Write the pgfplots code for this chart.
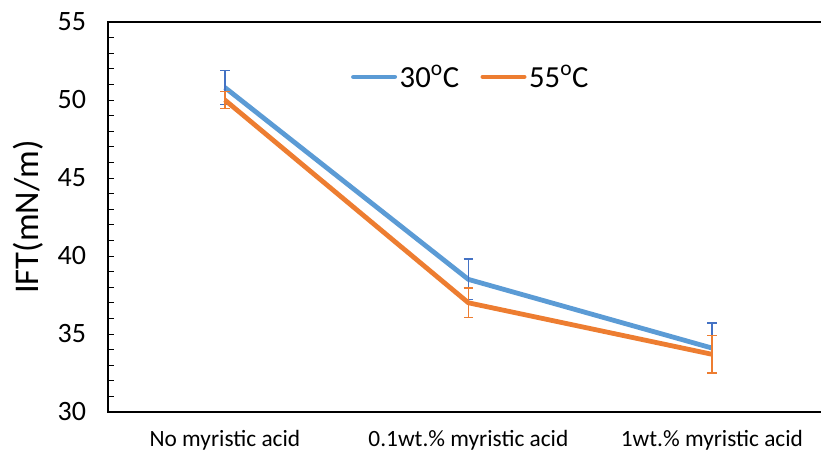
\documentclass[border=0pt]{standalone}
\usepackage{pgfplots}
\pgfplotsset{compat=1.18}
\usepackage{fontspec}
\setmainfont{Carlito}
\definecolor{cblue}{HTML}{5B9BD5}
\definecolor{corange}{HTML}{ED7D31}
\definecolor{eblue}{HTML}{4472C4}
\begin{document}
\begin{tikzpicture}
\useasboundingbox (0pt,0pt) rectangle (615.75pt,345pt);
\begin{axis}[
  at={(81pt,36pt)}, anchor=south west,
  scale only axis, width=541.5pt, height=292.5pt,
  xmin=-0.48, xmax=2.485, ymin=30, ymax=55,
  xtick={0,1,2},
  xticklabels={No myristic acid,0.1wt.\% myristic acid,1wt.\% myristic acid},
  ytick={30,35,...,55},
  minor y tick num=4,
  tick align=inside,
  major tick length=4.5pt, minor tick length=4.5pt,
  x tick style={draw=none},
  y tick style={black, line width=0.6pt},
  axis line style={line width=0.8pt},
  /pgf/number format/assume math mode=true,
  yticklabel style={font=\fontsize{21}{21}\selectfont, xshift=-13pt},
  xticklabel style={font=\fontsize{17.5}{18}\selectfont, yshift=-10.5pt},
  ylabel={IFT(mN/m)},
  ylabel style={font=\fontsize{26}{26}\selectfont, yshift=4pt},
  legend style={at={(0.503,0.905)}, anchor=north, draw=none, fill=none,
    legend columns=2, font=\fontsize{23}{23}\selectfont,
    inner xsep=0pt,
    /tikz/every even column/.append style={column sep=14pt},
    nodes={inner xsep=2pt}},
  legend image code/.code={\draw[#1, line width=3.5pt, line cap=round] (0pt,0pt) -- (31pt,0pt);},
]
\addplot[cblue, line width=3.6pt, line join=round,
  error bars/.cd, y dir=both, y explicit,
  error bar style={eblue, line width=1.1pt},
  error mark options={eblue, line width=1.1pt, mark size=3.6pt, rotate=90}]
  coordinates {(0,50.8) +- (0,1.1) (1,38.5) +- (0,1.3) (2,34.1) +- (0,1.6)};
\addlegendentry{30\textsuperscript{o}C}
\addplot[corange, line width=3.6pt, line join=round,
  error bars/.cd, y dir=both, y explicit,
  error bar style={corange, line width=1.1pt},
  error mark options={corange, line width=1.1pt, mark size=3.6pt, rotate=90}]
  coordinates {(0,50.0) +- (0,0.55) (1,37.0) +- (0,0.95) (2,33.7) +- (0,1.2)};
\addlegendentry{55\textsuperscript{o}C}
\end{axis}
\end{tikzpicture}
\end{document}
